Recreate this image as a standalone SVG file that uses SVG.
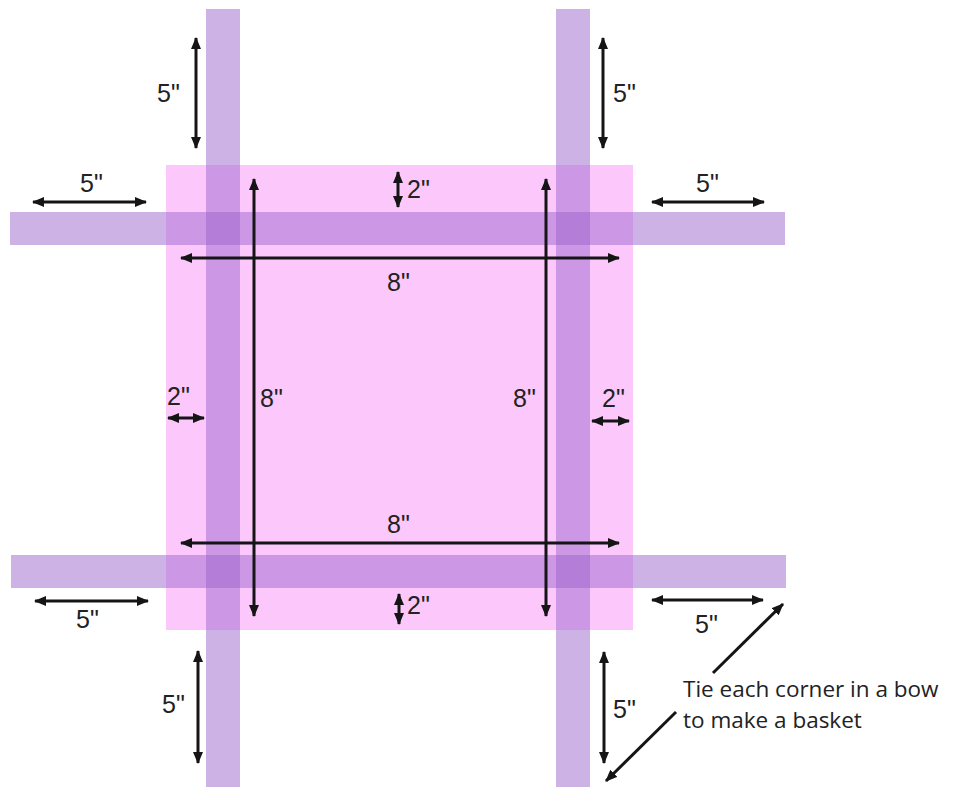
<svg xmlns="http://www.w3.org/2000/svg" width="954" height="787" viewBox="0 0 954 787">
<style>
.strip{fill:#9b66cc;fill-opacity:0.5}
.dim{stroke:#151515;stroke-width:3;fill:none;marker-start:url(#ah);marker-end:url(#ah)}
.one{stroke:#151515;stroke-width:3;fill:none;marker-end:url(#ah)}
.lbl{font-family:"Liberation Sans",Arial,sans-serif;font-size:25px;fill:#222}
.note{font-family:"Open Sans","Liberation Sans",sans-serif;font-size:22.5px;fill:#222}
</style>
<defs>
<marker id="ah" viewBox="0 0 12 10" refX="11" refY="5" markerWidth="12" markerHeight="10" markerUnits="userSpaceOnUse" orient="auto-start-reverse">
<path d="M0,0 L12,5 L0,10 Z" fill="#151515"/>
</marker>
</defs>
<rect width="954" height="787" fill="#fff"/>
<g id="fabric"><rect x="166" y="165" width="467" height="465" fill="#fcc8fc"/></g>
<g id="ribbons">
<rect id="ribbon-top" class="strip" x="10" y="212" width="775" height="33"/>
<rect id="ribbon-bottom" class="strip" x="11" y="555" width="775" height="33"/>
<rect id="ribbon-left" class="strip" x="206" y="9" width="34" height="778"/>
<rect id="ribbon-right" class="strip" x="556" y="9" width="34" height="778"/>
</g>
<g id="connectors">
<line class="dim" x1="196" y1="38" x2="196" y2="148"/>
<line class="dim" x1="603" y1="38" x2="603" y2="148"/>
<line class="dim" x1="33" y1="202" x2="146" y2="202"/>
<line class="dim" x1="652" y1="202" x2="764" y2="202"/>
<line class="dim" x1="181" y1="258" x2="619" y2="258"/>
<line class="dim" x1="181" y1="543" x2="619" y2="543"/>
<line class="dim" x1="254" y1="179" x2="254" y2="616"/>
<line class="dim" x1="546" y1="179" x2="546" y2="616"/>
<line class="dim" x1="398" y1="172" x2="398" y2="207"/>
<line class="dim" x1="399" y1="594" x2="399" y2="624"/>
<line class="dim" x1="168" y1="418" x2="204" y2="418"/>
<line class="dim" x1="592" y1="421" x2="629" y2="421"/>
<line class="dim" x1="35" y1="601" x2="148" y2="601"/>
<line class="dim" x1="652" y1="600" x2="763" y2="600"/>
<line class="dim" x1="198" y1="651" x2="198" y2="763"/>
<line class="dim" x1="604" y1="652" x2="604" y2="763"/>
<line class="one" x1="713" y1="673" x2="783" y2="604"/>
<line class="one" x1="676" y1="712" x2="606" y2="781"/>
</g>
<g id="labels">
<text class="lbl" x="157" y="102">5"</text>
<text class="lbl" x="613" y="102">5"</text>
<text class="lbl" x="80" y="192">5"</text>
<text class="lbl" x="696" y="192">5"</text>
<text class="lbl" x="407" y="198">2"</text>
<text class="lbl" x="387" y="291">8"</text>
<text class="lbl" x="167" y="405">2"</text>
<text class="lbl" x="260" y="407">8"</text>
<text class="lbl" x="513" y="407">8"</text>
<text class="lbl" x="602" y="407">2"</text>
<text class="lbl" x="387" y="533">8"</text>
<text class="lbl" x="407" y="614">2"</text>
<text class="lbl" x="76" y="628">5"</text>
<text class="lbl" x="695" y="633">5"</text>
<text class="lbl" x="162" y="713">5"</text>
<text class="lbl" x="613" y="718">5"</text>
</g>
<g id="note">
<text class="note" x="683" y="697">Tie each corner in a bow</text>
<text class="note" x="683" y="728">to make a basket</text>
</g>
</svg>
